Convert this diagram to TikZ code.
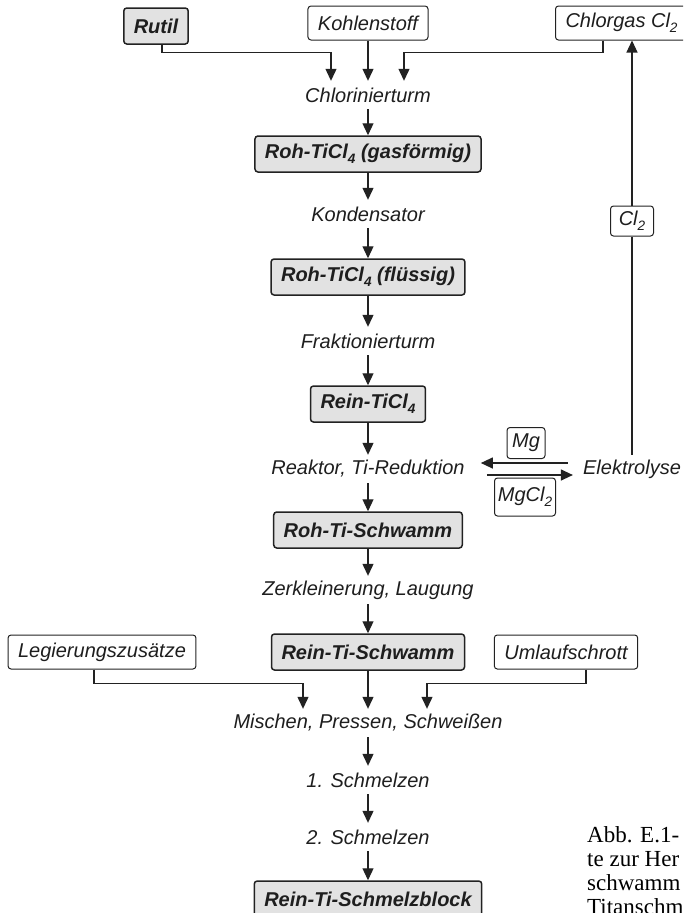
\documentclass[tikz,border=0pt]{standalone}
\usepackage{fontspec}
\setmainfont{Liberation Sans}
\newfontfamily\capfont{Liberation Serif}
\usetikzlibrary{arrows.meta,calc}
\definecolor{linecol}{HTML}{222222}
\definecolor{boxgray}{HTML}{E2E2E2}
\definecolor{textcol}{HTML}{1E1E1E}
% chemical index, set low as in the formula labels
\newcommand\lowidx[1]{\raisebox{-0.45ex}{\scalebox{0.68}{#1}}}
\begin{document}
\begin{tikzpicture}[x=1pt,y=-1pt,
  line/.style={draw=linecol, line width=1.2pt},
  arr/.style={line, -{Triangle[length=12pt,width=11pt]}},
  stage/.style={draw=linecol, line width=1.5pt, fill=boxgray, rounded corners=3pt,
    minimum height=36pt, inner xsep=10pt, text=textcol,
    font=\fontsize{20}{24}\selectfont\bfseries\itshape},
  feed/.style={draw=linecol, line width=1pt, fill=white, rounded corners=3pt,
    minimum height=34pt, inner xsep=10pt, text=textcol,
    font=\fontsize{20}{24}\selectfont\itshape},
  tag/.style={feed, inner xsep=0pt, minimum height=31pt},
  proc/.style={inner sep=0pt, minimum height=28pt, text=textcol,
    font=\fontsize{20}{24}\selectfont\itshape}
]
\useasboundingbox (0,0) rectangle (683,913);
\clip (0,0) rectangle (683,913);

% raw materials
\node[stage] (rutil) at (156,26) {Rutil};
\node[feed] (kohle) at (368,23) {Kohlenstoff};
\node[feed, anchor=west] (chlorgas) at (555,23) {Chlorgas Cl\lowidx{2}};

% main process chain
\node[proc]  (chl)    at (368,95)  {Chlorinierturm};
\node[stage] (gas)    at (368,154) {Roh-TiCl\lowidx{4} (gasförmig)};
\node[proc]  (kond)   at (368,214) {Kondensator};
\node[stage] (fl)     at (368,277) {Roh-TiCl\lowidx{4} (flüssig)};
\node[proc]  (frak)   at (368,341) {Fraktionierturm};
\node[stage] (rtc)    at (368,404) {Rein-TiCl\lowidx{4}};
\node[proc]  (reak)   at (368,469) {Reaktor, Ti-Reduktion};
\node[stage] (rohts)  at (368,530) {Roh-Ti-Schwamm};
\node[proc]  (zerk)   at (368,590) {Zerkleinerung, Laugung};
\node[stage] (reints) at (368,652) {Rein-Ti-Schwamm};
\node[proc]  (misch)  at (368,723) {Mischen, Pressen, Schweißen};
\node[proc]  (s1)     at (368,780) {1. Schmelzen};
\node[proc]  (s2)     at (368,837) {2. Schmelzen};
\node[stage] (block)  at (368,899) {Rein-Ti-Schmelzblock};

% magnesium cycle
\node[proc] (elek) at (632,469) {Elektrolyse};
\node[tag, minimum width=38pt] (mg) at (526,443) {Mg};
\node[tag, minimum width=61pt, minimum height=38pt] (mgcl) at (525,497) {MgCl\lowidx{2}};
\node[tag, minimum width=43pt, minimum height=30pt] (cl) at (632,221) {Cl\lowidx{2}};

% additions for melting
\node[feed] (leg) at (102,652) {Legierungszusätze};
\node[feed] (uml) at (566,652) {Umlaufschrott};

% caption
\node[anchor=north west, align=left, inner sep=0pt, text=black,
  font=\capfont\fontsize{23}{24}\selectfont] (cap) at (587,826)
  {Abb. E.1-\\te zur Her\\schwamm\\Titanschm};

% feeds into the chlorination tower
\draw[arr] ([xshift=6pt]rutil.south) |- ([xshift=-37pt,yshift=28pt]chl.north)
  -- ([xshift=-37pt]chl.north);
\draw[arr] (kohle.south) -- (kohle.south |- chl.north);
\draw[arr] ([xshift=48pt]chlorgas.south west) |- ([xshift=36pt,yshift=28pt]chl.north)
  -- ([xshift=36pt]chl.north);

% main chain arrows
\draw[arr] (chl.south) -- (gas.north);
\draw[arr] (gas.south) -- (kond.north);
\draw[arr] (kond.south) -- (fl.north);
\draw[arr] (fl.south) -- (frak.north);
\draw[arr] (frak.south) -- (rtc.north);
\draw[arr] (rtc.south) -- (reak.north);
\draw[arr] (reak.south) -- (rohts.north);
\draw[arr] (rohts.south) -- (zerk.north);
\draw[arr] (zerk.south) -- (reints.north);
\draw[arr] (reints.south) -- (misch.north);
\draw[arr] (misch.south) -- (s1.north);
\draw[arr] (s1.south) -- (s2.north);
\draw[arr] (s2.south) -- (block.north);

% Mg / MgCl2 exchange
\draw[arr] ([xshift=-15pt,yshift=6pt]elek.west) -- ([xshift=16pt,yshift=6pt]reak.east);
\draw[arr] ([xshift=22pt,yshift=-6pt]reak.east) -- ([xshift=-10pt,yshift=-6pt]elek.west);

% chlorine recycling
\draw[line] (elek.north) -- (cl.south);
\draw[arr] (cl.north) -- (cl.north |- chlorgas.south);

% feeds into mixing
\draw[arr] ([xshift=-8pt]leg.south) |- ([xshift=-65pt,yshift=25pt]misch.north)
  -- ([xshift=-65pt]misch.north);
\draw[arr] ([xshift=20pt]uml.south) |- ([xshift=59pt,yshift=25pt]misch.north)
  -- ([xshift=59pt]misch.north);
\end{tikzpicture}
\end{document}
